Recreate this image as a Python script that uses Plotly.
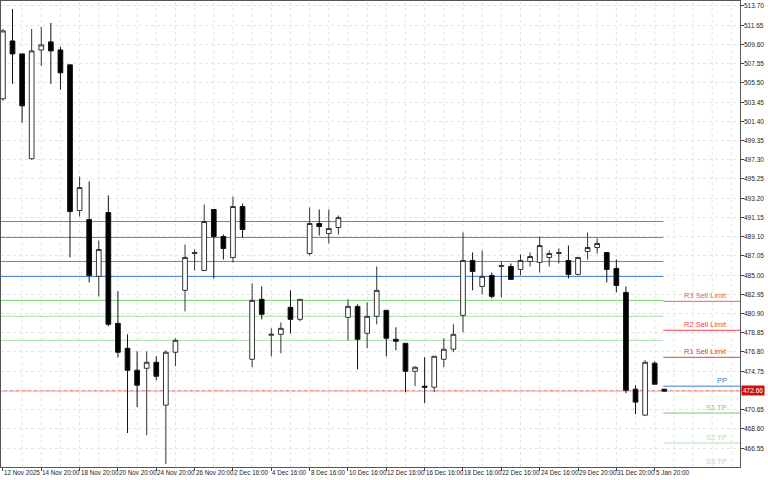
import plotly.graph_objects as go

# candles, left to right
opens = [503.80, 509.97, 508.59, 497.41, 509.01, 509.87, 509.01, 507.42, 491.88, 490.92,
         484.86, 491.67, 479.85, 477.19, 474.85, 475.06, 475.70, 471.13, 476.77, 483.37,
         487.30, 485.49, 491.99, 489.11, 486.88, 492.31, 476.02, 482.41, 478.58, 478.68,
         481.56, 480.28, 487.30, 490.50, 489.43, 490.07, 480.49, 481.66, 478.79, 480.60,
         481.24, 478.15, 477.72, 474.74, 473.15, 473.04, 476.02, 477.09, 480.70, 486.56,
         483.79, 484.96, 485.92, 485.92, 485.60, 486.45, 486.35, 486.88, 487.30, 486.56,
         485.07, 487.52, 487.94, 487.41, 485.71, 483.15, 472.83, 470.06, 475.60, 472.83]
highs = [511.25, 513.38, 508.59, 511.25, 511.46, 511.89, 509.33, 507.42, 495.50, 494.97,
         488.69, 493.48, 483.26, 478.68, 476.87, 476.87, 476.34, 476.98, 478.26, 488.26,
         487.73, 492.52, 491.99, 489.33, 493.37, 492.62, 484.11, 483.79, 479.32, 479.96,
         483.37, 482.41, 492.20, 491.99, 491.99, 491.35, 482.41, 481.88, 482.09, 485.92,
         481.24, 479.43, 477.72, 475.28, 476.23, 476.34, 478.26, 479.75, 489.54, 487.41,
         487.62, 485.28, 486.45, 486.24, 487.20, 487.41, 489.11, 487.62, 487.84, 488.15,
         486.88, 489.54, 488.90, 487.41, 486.66, 483.79, 473.25, 475.92, 475.81, 472.83]
lows = [503.59, 505.40, 501.25, 497.31, 507.31, 505.40, 504.76, 486.88, 491.24, 484.22,
        482.73, 479.53, 476.23, 468.15, 470.91, 467.93, 473.79, 464.85, 475.28, 481.13,
        485.49, 485.49, 484.64, 486.66, 486.35, 489.01, 475.17, 480.28, 476.34, 476.66,
        478.79, 480.07, 487.09, 489.22, 488.37, 489.33, 478.04, 474.96, 477.19, 479.75,
        476.34, 476.98, 472.51, 473.15, 471.34, 472.51, 475.17, 476.77, 478.90, 483.37,
        482.94, 482.51, 482.62, 484.54, 484.96, 485.92, 485.28, 485.92, 486.24, 484.64,
        484.96, 486.66, 487.30, 484.22, 483.15, 472.40, 470.17, 469.95, 473.36, 472.62]
closes = [511.04, 508.59, 503.05, 508.91, 509.55, 508.91, 506.57, 491.77, 494.33, 484.96,
          487.73, 479.75, 476.77, 474.85, 473.25, 475.70, 474.21, 476.77, 478.04, 486.88,
          487.41, 490.71, 489.11, 487.84, 492.31, 489.86, 482.30, 480.81, 478.68, 479.32,
          480.28, 482.41, 490.50, 490.18, 489.96, 491.13, 481.66, 478.15, 480.60, 483.37,
          478.26, 477.94, 474.74, 475.17, 473.04, 476.34, 477.09, 478.68, 486.56, 485.39,
          484.86, 482.73, 486.02, 484.54, 486.56, 486.98, 488.15, 487.30, 487.40, 485.07,
          486.88, 487.94, 488.37, 485.60, 483.90, 472.72, 471.45, 475.70, 473.36, 472.62]

date_labels = ["12 Nov 2025", "14 Nov 20:00", "18 Nov 20:00", "20 Nov 20:00", "24 Nov 20:00",
               "26 Nov 20:00", "2 Dec 16:00", "4 Dec 16:00", "8 Dec 16:00", "10 Dec 16:00",
               "12 Dec 16:00", "16 Dec 16:00", "18 Dec 16:00", "22 Dec 16:00", "24 Dec 16:00",
               "29 Dec 20:00", "31 Dec 20:00", "5 Jan 20:00"]
date_idx = [0, 4, 8, 12, 16, 20, 24, 28, 32, 36, 40, 44, 48, 52, 56, 60, 64, 68]

price_ticks = [513.70, 511.65, 509.60, 507.55, 505.50, 503.45, 501.40, 499.35, 497.30, 495.25,
               493.20, 491.15, 489.10, 487.05, 485.00, 482.95, 480.90, 478.85, 476.80, 474.75,
               472.70, 470.65, 468.60, 466.55]

# old pivot levels across the history
old_levels = [490.71, 489.01, 486.45, 484.86, 482.30, 480.60, 478.04]
old_colors = ["#e05a5a", "#e05a5a", "#e05a5a", "#3a78d8", "#6cd66c", "#a8e0a8", "#a8e0a8"]

# current pivot levels
lvl_names = ["R3 Sell Limit", "R2 Sell Limit", "R1 Sell Limit", "PP", "S1 TP", "S2 TP", "S3 TP"]
lvl_values = [482.20, 479.11, 476.23, 473.15, 470.28, 467.08, 464.20]
lvl_colors = ["#f06060", "#f04848", "#e04040", "#3a78d8", "#70d070", "#a8e8a8", "#a8e8a8"]

last_price = 472.66

x = list(range(len(opens)))
XMAX = 76.9
SPLIT = 68.9
YMIN, YMAX = 464.53, 514.23
FONT = "Liberation Sans"

fig = go.Figure(go.Candlestick(
    x=x, open=opens, high=highs, low=lows, close=closes,
    increasing=dict(line=dict(color="#333333", width=1), fillcolor="white"),
    decreasing=dict(line=dict(color="#111111", width=1), fillcolor="black"),
    whiskerwidth=0, hoverinfo="skip", showlegend=False,
))

for g in range(2, 77, 2):
    fig.add_vline(x=g, line=dict(color="#e4e4e4", width=1, dash="dot"), layer="below")

for v, c in zip(old_levels, old_colors):
    fig.add_shape(type="line", x0=-0.3, x1=SPLIT, y0=v, y1=v, line=dict(color=c, width=1), layer="below")
fig.add_shape(type="line", x0=-0.3, x1=XMAX, y0=last_price, y1=last_price,
              line=dict(color="#f09090", width=1.5), layer="below")

for n, v, c in zip(lvl_names, lvl_values, lvl_colors):
    fig.add_shape(type="line", x0=SPLIT, x1=XMAX, y0=v, y1=v, line=dict(color=c, width=1))
    fig.add_annotation(x=75.6, y=max(v, YMIN + 0.05), text=n, showarrow=False, xanchor="right",
                       yanchor="bottom", font=dict(size=7.5, color=c), borderpad=0)

for i, t in zip(date_idx, date_labels):
    fig.add_annotation(x=i, y=0, yref="paper", text=t, showarrow=False, xanchor="left",
                       yanchor="top", xshift=0, yshift=-1, font=dict(size=6.3, color="#222"),
                       borderpad=0)

for p in price_ticks:
    fig.add_annotation(x=1, xref="paper", y=p, text="%.2f" % p, showarrow=False, xanchor="left",
                       xshift=3, font=dict(size=6.5, color="#222"), borderpad=0)

fig.add_annotation(x=1, xref="paper", y=last_price, text="%.2f" % last_price, showarrow=False,
                   xanchor="left", xshift=1, bgcolor="#d01010", font=dict(size=6.5, color="white"),
                   borderpad=1)

fig.update_layout(
    width=768, height=480, margin=dict(l=1, r=28, t=1, b=13, autoexpand=False),
    plot_bgcolor="white", paper_bgcolor="white",
    font=dict(family=FONT, size=7, color="#222"),
    xaxis=dict(range=[-0.2, XMAX], rangeslider=dict(visible=False), tickvals=date_idx,
               showticklabels=False, ticks="outside", ticklen=3, tickcolor="#444",
               showgrid=False, showline=True, linecolor="#555", mirror=True, zeroline=False,
               automargin=False),
    yaxis=dict(range=[YMIN, YMAX], side="right", tickvals=price_ticks, showticklabels=False,
               ticks="outside", ticklen=3, tickcolor="#444", showgrid=True, gridcolor="#e4e4e4",
               griddash="dot", showline=True, linecolor="#555", mirror=True, zeroline=False,
               automargin=False),
)

fig.write_html("out.html", config={"displayModeBar": False},
               post_script="document.body.style.margin='0px';")
